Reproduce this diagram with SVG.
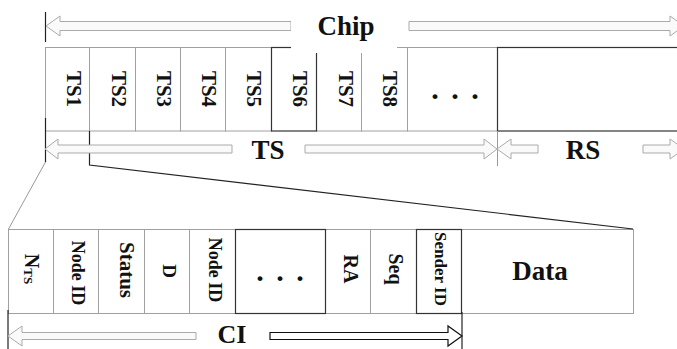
<svg xmlns="http://www.w3.org/2000/svg" width="677" height="349" viewBox="0 0 677 349">
<style>
.cell{fill:#fff;stroke:#a0a0a0;stroke-width:1}
.dark{fill:#fff;stroke:#333;stroke-width:1.2}
.lbl{font-family:"Liberation Serif","Times New Roman",serif;font-weight:bold;fill:#111;text-anchor:middle}
.dots{font-family:"Liberation Serif","Times New Roman",serif;font-weight:bold;fill:#111;font-size:30px;letter-spacing:12.5px}
.arr{fill:#fafafa;stroke:#aaa;stroke-width:1}
.arrd{fill:#fff;stroke:#111;stroke-width:1.2}
.ln{stroke:#222;stroke-width:1.2;fill:none}
.lg{stroke:#999;stroke-width:1;fill:none}
</style>
<rect width="677" height="349" fill="#fff"/>

<g id="top-row">
  <g id="TS1"><rect class="cell" x="45.5" y="47.5" width="44" height="83.5"/><text class="lbl" font-size="21" transform="translate(67,89) rotate(90)">TS1</text></g>
  <g id="TS2"><rect class="cell" x="89.5" y="47.5" width="46" height="83.5"/><text class="lbl" font-size="21" transform="translate(111.5,89) rotate(90)">TS2</text></g>
  <g id="TS3"><rect class="cell" x="135.5" y="47.5" width="45" height="83.5"/><text class="lbl" font-size="21" transform="translate(157,89) rotate(90)">TS3</text></g>
  <g id="TS4"><rect class="cell" x="180.5" y="47.5" width="45" height="83.5"/><text class="lbl" font-size="21" transform="translate(202,89) rotate(90)">TS4</text></g>
  <g id="TS5"><rect class="cell" x="225.5" y="47.5" width="46" height="83.5"/><text class="lbl" font-size="21" transform="translate(247,89) rotate(90)">TS5</text></g>
  <g id="TS7"><rect class="cell" x="316.5" y="47.5" width="45" height="83.5"/><text class="lbl" font-size="21" transform="translate(338.5,89) rotate(90)">TS7</text></g>
  <g id="TS8"><rect class="cell" x="361.5" y="47.5" width="46" height="83.5"/><text class="lbl" font-size="21" transform="translate(383,89) rotate(90)">TS8</text></g>
  <g id="TS-dots"><rect class="cell" x="407.5" y="47.5" width="90" height="83.5"/><text class="dots" x="431.25" y="98.8">...</text></g>
  <g id="TS6"><rect class="dark" x="271.5" y="47.5" width="45" height="83.5"/><text class="lbl" font-size="21" transform="translate(293,89) rotate(90)">TS6</text></g>
  <g id="RS-box"><rect class="dark" x="497.5" y="47.5" width="190" height="83.5"/></g>
</g>

<g id="bottom-row">
  <g id="NTS"><rect class="cell" x="8.5" y="229.5" width="45" height="84"/><text class="lbl" font-size="20" transform="translate(25,269) rotate(90)">N<tspan font-size="13" dy="1">TS</tspan></text></g>
  <g id="NodeID1"><rect class="cell" x="53.5" y="229.5" width="45" height="84"/><text class="lbl" font-size="18" transform="translate(72,273) rotate(90)">Node ID</text></g>
  <g id="Status"><rect class="cell" x="98.5" y="229.5" width="46" height="84"/><text class="lbl" font-size="21" transform="translate(120,270) rotate(90)">Status</text></g>
  <g id="D"><rect class="cell" x="144.5" y="229.5" width="45" height="84"/><text class="lbl" font-size="19" transform="translate(162.5,271) rotate(90)">D</text></g>
  <g id="NodeID2"><rect class="cell" x="189.5" y="229.5" width="46" height="84"/><text class="lbl" font-size="18" transform="translate(208.5,270) rotate(90)">Node ID</text></g>
  <g id="RA"><rect class="cell" x="325.5" y="229.5" width="45" height="84"/><text class="lbl" font-size="20" transform="translate(343.5,269) rotate(90)">RA</text></g>
  <g id="Seq"><rect class="cell" x="370.5" y="229.5" width="46" height="84"/><text class="lbl" font-size="20" transform="translate(388.5,269) rotate(90)">Seq</text></g>
  <g id="Data"><rect class="cell" x="461.5" y="229.5" width="172" height="84"/><text class="lbl" font-size="27" x="540" y="280">Data</text></g>
  <g id="CI-dots"><rect class="dark" x="235.5" y="229.5" width="90" height="84"/><text class="dots" x="256.25" y="280.5">...</text></g>
  <g id="SenderID"><rect class="dark" x="416.5" y="229.5" width="45" height="84"/><text class="lbl" font-size="17" transform="translate(435,269) rotate(90)">Sender ID</text></g>
</g>

<g id="connectors">
  <path class="ln" d="M45.5 12 V42"/>
  <path class="arr" d="M46 26 L60 16 L60 21.5 L291 21.5 L291 30.5 L60 30.5 L60 36 Z"/>
  <path class="arr" d="M409 21.5 L670 21.5 L670 16 L684 26 L670 36 L670 30.5 L409 30.5 Z"/>
  <path class="ln" d="M45.5 118 V162"/>
  <path class="ln" d="M89.5 131 V165 L633 229"/>
  <path class="lg" d="M45.5 162 L8.5 229"/>
  <path class="lg" d="M497.5 131 V166"/>
  <path class="arr" d="M45 149 L58 139 L58 145 L232 145 L232 153 L58 153 L58 159 Z"/>
  <path class="arr" d="M305 145 L484 145 L484 139 L497 149 L484 159 L484 153 L305 153 Z"/>
  <path class="arr" d="M497 149 L511 139 L511 145 L538 145 L538 153 L511 153 L511 159 Z"/>
  <path class="arr" d="M643 145 L670 145 L670 139 L684 149 L670 159 L670 153 L643 153 Z"/>
  <path class="ln" d="M8 310 V349"/>
  <path class="ln" d="M462 312 V349"/>
  <path class="arr" d="M8 336 L22 326 L22 332.5 L196 332.5 L196 339.5 L22 339.5 L22 346 Z"/>
  <path class="arrd" d="M270 332.5 L448 332.5 L448 326 L462 336 L448 346 L448 339.5 L270 339.5 Z"/>
</g>

<g id="labels">
  <rect x="291" y="14" width="106" height="39" fill="#fff"/>
  <text class="lbl" font-size="27" x="346" y="35">Chip</text>
  <text class="lbl" font-size="27" x="268" y="158.5">TS</text>
  <text class="lbl" font-size="27" x="583" y="159">RS</text>
  <text class="lbl" font-size="26" x="232" y="343">CI</text>
</g>
</svg>
